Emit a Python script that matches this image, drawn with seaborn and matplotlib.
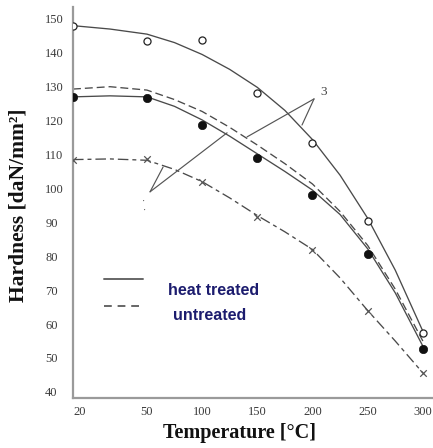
import numpy as np
import pandas as pd
import matplotlib
matplotlib.use("Agg")
import matplotlib.pyplot as plt
import seaborn as sns
from matplotlib.lines import Line2D

# ---- data -------------------------------------------------------------
temps = [20, 50, 100, 150, 200, 250, 300]

# measured hardness
ht_open = [148, 143.5, 143.8, 128, 113.4, 90.4, 57.4]      # heat treated (open circles)
ht_filled = [127, 126.7, 118.7, 109, 98.1, 80.7, 52.7]     # heat treated (filled circles)
un_cross = [108.5, 108.7, 101.9, 91.6, 81.7, 63.9, 45.6]   # untreated (crosses)

# fitted trend curves
curve_t = [20, 35, 50, 75, 100, 125, 150, 175, 200, 225, 250, 275, 300]
curve_ht_open = [148, 147, 145.5, 143, 139.5, 135.1, 129.8, 123, 114.4, 103.9, 91.2, 75.9, 57.9]
curve_ht_filled = [127, 127.3, 127, 124.2, 120.2, 115.4, 110.2, 105, 99.5, 92.3, 82.2, 69.2, 53.5]
curve_un_upper = [129.3, 130, 129, 126.2, 122.7, 118, 112.8, 107.3, 101.3, 93.2, 83.2, 70.3, 55]
curve_un_lower = [108.5, 108.7, 108.3, 105.6, 102, 97.2, 92, 87.2, 82, 73.6, 64, 55, 45.6]

x_ticks = [20, 50, 100, 150, 200, 250, 300]
y_ticks = list(range(40, 151, 10))

legend_labels = ["heat treated", "untreated"]

# ---- axis scale: the 20-50 interval is stretched ------------------------
K = 2.234


def fwd(x):
    x = np.asarray(x, dtype=float)
    return np.where(x >= 50, x, 50 - (50 - x) * K)


def inv(t):
    t = np.asarray(t, dtype=float)
    return np.where(t >= 50, t, 50 - (50 - t) / K)


sns.set_theme(style="white")
plt.rcParams["font.family"] = ["Liberation Serif", "DejaVu Serif"]

fig = plt.figure(figsize=(4.33, 4.48), dpi=100)
ax = fig.add_axes([73 / 433, 1 - 398 / 448, 1 - 73 / 433, (398 - 7) / 448])
ax.set_xscale("function", functions=(fwd, inv))

line_col = "#4a4a4a"
n = len(curve_t)
curves = pd.DataFrame({
    "T": curve_t * 4,
    "H": curve_ht_open + curve_ht_filled + curve_un_upper + curve_un_lower,
    "curve": (["a"] * n) + (["b"] * n) + (["c"] * n) + (["d"] * n),
})
for name, dashes in [("a", None), ("b", None), ("c", (6, 3)), ("d", (8, 3, 3, 3))]:
    sub = curves[curves["curve"] == name]
    sns.lineplot(data=sub, x="T", y="H", ax=ax, color=line_col, lw=0.95,
                 estimator=None, sort=False)
    if dashes is not None:
        ax.lines[-1].set_dashes(dashes)

sns.scatterplot(x=temps, y=ht_open, ax=ax, marker="o", s=26,
                facecolor="white", edgecolor="#222222", linewidth=0.9, zorder=5)
sns.scatterplot(x=temps, y=ht_filled, ax=ax, marker="o", s=36,
                color="#111111", edgecolor="#111111", linewidth=0.5, zorder=5)
sns.scatterplot(x=temps, y=un_cross, ax=ax, marker="x", s=22,
                color="#555555", linewidth=0.9, zorder=5)

# leader lines of the annotation "3"
ann_kw = dict(arrowprops=dict(arrowstyle="-", color="#555555", lw=0.85,
                              shrinkA=0, shrinkB=0))
ax.annotate("", xy=(140.7, 115.2), xytext=(201.4, 126.4), **ann_kw)
ax.annotate("", xy=(190.5, 118.7), xytext=(201.4, 126.4), **ann_kw)
ax.text(210.4, 128.5, "3", fontsize=9.5, color="#444444", ha="center", va="center")
ax.annotate("", xy=(122.6, 116.4), xytext=(52.8, 99.0), **ann_kw)
ax.annotate("", xy=(64.6, 106.3), xytext=(52.8, 99.0), **ann_kw)
ax.text(48.8, 96.3, "·", fontsize=7, color="#555555", ha="center", va="center")
ax.text(49.2, 93.7, "·", fontsize=7, color="#555555", ha="center", va="center")

ax.set_xlim(20, 309.2)
ax.set_ylim(38.2, 153.5)
ax.set_xticks(x_ticks)
ax.set_xticklabels([str(v) for v in x_ticks])
ax.set_yticks(y_ticks)
ax.set_yticklabels([str(v) for v in y_ticks])
ax.tick_params(axis="both", length=0, labelsize=9, labelcolor="#3a3a3a")
ax.tick_params(axis="y", pad=20)
ax.tick_params(axis="x", pad=6)
for lab in ax.get_yticklabels():
    lab.set_horizontalalignment("left")
ax.get_xticklabels()[0].set_horizontalalignment("left")
ax.set_xlabel("")
ax.set_ylabel("")

for side in ["top", "right"]:
    ax.spines[side].set_visible(False)
for side in ["left", "bottom"]:
    ax.spines[side].set_color("#9a9a9a")
    ax.spines[side].set_linewidth(1.6)

# legend drawn by hand
ax.add_line(Line2D([0.086, 0.194], [0.304, 0.304], transform=ax.transAxes,
                   color="#666666", lw=1.4))
ax.add_line(Line2D([0.086, 0.194], [0.235, 0.235], transform=ax.transAxes,
                   color="#666666", lw=1.4, dashes=(4, 3)))
ax.text(0.264, 0.276, legend_labels[0], transform=ax.transAxes, fontsize=11.5,
        fontweight="bold", color="#1c1c6e", family=["Liberation Sans"],
        ha="left", va="center")
ax.text(0.278, 0.212, legend_labels[1], transform=ax.transAxes, fontsize=11.5,
        fontweight="bold", color="#1c1c6e", family=["Liberation Sans"],
        ha="left", va="center")

fig.text(240 / 433, 1 - 433 / 448, "Temperature [°C]", fontsize=14.5,
         fontweight="bold", ha="center", va="center", color="#111111")
fig.text(19 / 433, 1 - 205 / 448, "Hardness [daN/mm²]", fontsize=15.5,
         fontweight="bold", ha="center", va="center", rotation=90, color="#111111")

fig.savefig("out.png", dpi=100, facecolor="white")
